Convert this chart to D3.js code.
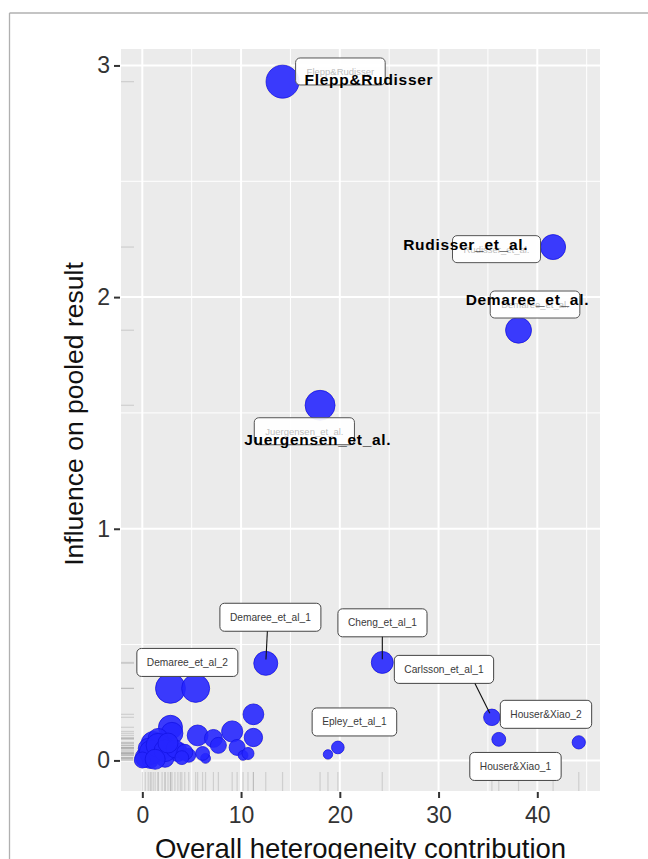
<!DOCTYPE html>
<html><head><meta charset="utf-8">
<script src="https://cdn.jsdelivr.net/npm/d3@7"></script>
<style>
body{margin:0;background:#fff;}
svg{display:block;font-family:"Liberation Sans",Arial,Helvetica,sans-serif;}
</style>
</head><body>
<script>
// ---- data ----
const heterogeneity = [14.2, 41.6, 38.1, 18.0, 12.5, 24.3, 35.4, 36.1, 44.2, 19.8, 18.8,
  2.85, 5.4, 11.25, 11.25, 9.1, 5.6, 7.2, 7.7, 9.6, 10.2, 10.7, 6.4, 6.1, 4.7, 3.6,
  2.85, 3.0, 1.1, 2.0, 0.3, 0.8, 2.3, 3.85, 1.6, 0.6,
  0.9, 1.6, 2.3, 3.3, 4.3, 0.0, 1.3, 2.6, 4.0];
const influence = [2.93, 2.216, 1.857, 1.533, 0.419, 0.423, 0.186, 0.091, 0.078, 0.056, 0.026,
  0.311, 0.311, 0.199, 0.099, 0.125, 0.108, 0.095, 0.065, 0.056, 0.022, 0.030, 0.009, 0.030, 0.022, 0.030,
  0.143, 0.117, 0.073, 0.056, 0.013, 0.0, 0.009, 0.050, 0.095, 0.052,
  0.035, 0.065, 0.042, 0.050, 0.035, 0.002, 0.005, 0.075, 0.012];
const studyWeight = [68, 39, 42, 56, 36, 30, 17, 12, 11, 10, 5.5,
  56, 49, 27, 21, 28, 27, 20, 16, 16, 6, 9, 6, 12, 12, 16,
  36, 30, 36, 36, 25, 16, 20, 9, 25, 25,
  36, 36, 30, 20, 16, 16, 25, 25, 12];

const xTicks = [0, 10, 20, 30, 40];
const xMinor = [5, 15, 25, 35, 45];
const yTicks = [0, 1, 2, 3];
const yMinor = [0.5, 1.5, 2.5];

// boxed labels (ggrepel style)
const smallLabels = ["Demaree_et_al_1", "Demaree_et_al_2", "Cheng_et_al_1", "Carlsson_et_al_1",
  "Houser&Xiao_2", "Houser&Xiao_1", "Epley_et_al_1"];
const smallLabelPoint = [4, null, 5, 6, null, null, null];
const smallLabelX = [12.97, 4.56, 24.32, 30.55, 40.88, 37.79, 21.48];
const smallLabelY = [0.618, 0.423, 0.594, 0.393, 0.199, -0.026, 0.166];

// highlighted labels (bold overlay on a faded box)
const boldLabels = ["Flepp&Rudisser", "Rudisser_et_al.", "Demaree_et_al.", "Juergensen_et_al."];
const boldBoxX = [20.06, 35.87, 39.77, 16.41];
const boldBoxY = [2.974, 2.207, 1.968, 1.421];
const boldTextX = [22.95, 32.75, 39.0, 17.77];
const boldTextY = [2.915, 2.205, 1.965, 1.36];

// ---- layout ----
const W = 648, H = 859;
const P = {left: 121, right: 600, top: 49, bottom: 791};

const svg = d3.select("body").append("svg").attr("width", W).attr("height", H);

// outer frame (top/left border of the figure)
svg.append("line").attr("x1", 9.5).attr("x2", W).attr("y1", 13).attr("y2", 13)
  .attr("stroke", "#b0b0b0").attr("stroke-width", 1.3);
svg.append("line").attr("x1", 9.5).attr("x2", 9.5).attr("y1", 13).attr("y2", H)
  .attr("stroke", "#b0b0b0").attr("stroke-width", 1.3);

const x = d3.scaleLinear().domain([-2.16, 46.35]).range([P.left, P.right]);
const y = d3.scaleLinear().domain([-0.132, 3.071]).range([P.bottom, P.top]);
const r = d3.scaleSqrt().domain([0, 100]).range([0, 20]);

// panel
svg.append("rect").attr("x", P.left).attr("y", P.top)
  .attr("width", P.right - P.left).attr("height", P.bottom - P.top).attr("fill", "#ebebeb");

const grid = svg.append("g");
grid.selectAll(".xm").data(xMinor.filter(v => v < x.domain()[1])).join("line")
  .attr("x1", d => x(d)).attr("x2", d => x(d)).attr("y1", P.top).attr("y2", P.bottom)
  .attr("stroke", "#fff").attr("stroke-width", 1);
grid.selectAll(".ym").data(yMinor).join("line")
  .attr("y1", d => y(d)).attr("y2", d => y(d)).attr("x1", P.left).attr("x2", P.right)
  .attr("stroke", "#fff").attr("stroke-width", 1);
grid.selectAll(".xM").data(xTicks).join("line")
  .attr("x1", d => x(d)).attr("x2", d => x(d)).attr("y1", P.top).attr("y2", P.bottom)
  .attr("stroke", "#fff").attr("stroke-width", 2);
grid.selectAll(".yM").data(yTicks).join("line")
  .attr("y1", d => y(d)).attr("y2", d => y(d)).attr("x1", P.left).attr("x2", P.right)
  .attr("stroke", "#fff").attr("stroke-width", 2);

const pts = heterogeneity.map((v, i) => ({x: v, y: influence[i], w: studyWeight[i]}));

// rugs
const rug = svg.append("g").attr("stroke", "#9a9a9a").attr("stroke-opacity", 0.35).attr("stroke-width", 1.2);
rug.selectAll(".rx").data(pts).join("line")
  .attr("x1", d => x(d.x)).attr("x2", d => x(d.x)).attr("y1", P.bottom).attr("y2", P.bottom - 19);
rug.selectAll(".ry").data(pts).join("line")
  .attr("y1", d => y(d.y)).attr("y2", d => y(d.y)).attr("x1", P.left).attr("x2", P.left + 13);

// axes
const xAxis = d3.axisBottom(x).tickValues(xTicks).tickSize(6).tickPadding(9).tickFormat(d3.format("d"));
const gx = svg.append("g").attr("transform", `translate(0,${P.bottom + 1})`).call(xAxis);
gx.select(".domain").remove();
gx.selectAll(".tick line").attr("stroke", "#333").attr("stroke-width", 2);
gx.selectAll(".tick text").attr("font-size", 23).attr("fill", "#333")
  .attr("font-family", "Liberation Sans, Arial, sans-serif");

const yAxis = d3.axisLeft(y).tickValues(yTicks).tickSize(6).tickPadding(4).tickFormat(d3.format("d"));
const gy = svg.append("g").attr("transform", `translate(${P.left - 1},0)`).call(yAxis);
gy.select(".domain").remove();
gy.selectAll(".tick line").attr("stroke", "#333").attr("stroke-width", 2);
gy.selectAll(".tick text").attr("font-size", 23).attr("fill", "#333")
  .attr("font-family", "Liberation Sans, Arial, sans-serif");

// axis titles
svg.append("text").attr("x", (P.left + P.right) / 2).attr("y", 858)
  .attr("text-anchor", "middle").attr("font-size", 27.5).attr("fill", "#111")
  .text("Overall heterogeneity contribution");
svg.append("text").attr("transform", `translate(83,${(P.top + P.bottom) / 2 - 6}) rotate(-90)`)
  .attr("text-anchor", "middle").attr("font-size", 26.5).attr("fill", "#111")
  .text("Influence on pooled result");

// points: halo then fill
const gp = svg.append("g");
gp.selectAll(".halo").data(pts).join("circle")
  .attr("cx", d => x(d.x)).attr("cy", d => y(d.y)).attr("r", d => r(d.w) + 1.3)
  .attr("fill", "#f3efd9");
gp.selectAll(".pt").data(pts).join("circle")
  .attr("cx", d => x(d.x)).attr("cy", d => y(d.y)).attr("r", d => r(d.w))
  .attr("fill", "#2626ff").attr("fill-opacity", 0.9)
  .attr("stroke", "#1414e6").attr("stroke-width", 0.8);

// small boxed labels
const gl = svg.append("g");
smallLabels.forEach((name, i) => {
  const cx = x(smallLabelX[i]), cy = y(smallLabelY[i]);
  const t = gl.append("text").attr("x", cx).attr("y", cy + 3.5).attr("text-anchor", "middle")
    .attr("font-size", 10.2).attr("fill", "#3a3a3a").text(name);
  const tw = t.node().getComputedTextLength();
  const bw = tw + 20, bh = 28;
  gl.insert("rect", "text").attr("x", cx - bw / 2).attr("y", cy - bh / 2)
    .attr("width", bw).attr("height", bh).attr("rx", 4.5)
    .attr("fill", "#fff").attr("stroke", "#444").attr("stroke-width", 1);
  const pi = smallLabelPoint[i];
  if (pi !== null) {
    const px = x(pts[pi].x), py = y(pts[pi].y);
    const dx = px - cx, dy = py - cy;
    const tt = Math.min(Math.abs((bw / 2) / (dx || 1e-9)), Math.abs((bh / 2) / (dy || 1e-9)));
    const sx = (cx + dx * tt + Math.min(Math.max(px, cx - bw / 2), cx + bw / 2)) / 2;
    const sy = cy + dy * tt;
    gl.append("line").attr("x1", sx).attr("y1", sy)
      .attr("x2", px - (px - sx) * 0.12).attr("y2", py - (py - sy) * 0.12)
      .attr("stroke", "#111").attr("stroke-width", 1.1);
  }
});

// bold highlighted labels
const gb = svg.append("g");
boldLabels.forEach((name, i) => {
  const cx = x(boldBoxX[i]), cy = y(boldBoxY[i]);
  const t = gb.append("text").attr("x", cx).attr("y", cy + 3.5).attr("text-anchor", "middle")
    .attr("font-size", 9.5).attr("fill", "#a8a8a8").attr("fill-opacity", 0.75).text(name);
  const tw = t.node().getComputedTextLength();
  const bw = tw + 22, bh = 27;
  gb.insert("rect", "text").attr("x", cx - bw / 2).attr("y", cy - bh / 2)
    .attr("width", bw).attr("height", bh).attr("rx", 4.5)
    .attr("fill", "#fff").attr("fill-opacity", 0.92).attr("stroke", "#555").attr("stroke-width", 1);
});
boldLabels.forEach((name, i) => {
  gb.append("text").attr("x", x(boldTextX[i])).attr("y", y(boldTextY[i]))
    .attr("text-anchor", "middle").attr("font-size", 15.5).attr("font-weight", "bold")
    .attr("letter-spacing", 0.7).attr("fill", "#000").text(name);
});
</script>
</body></html>
